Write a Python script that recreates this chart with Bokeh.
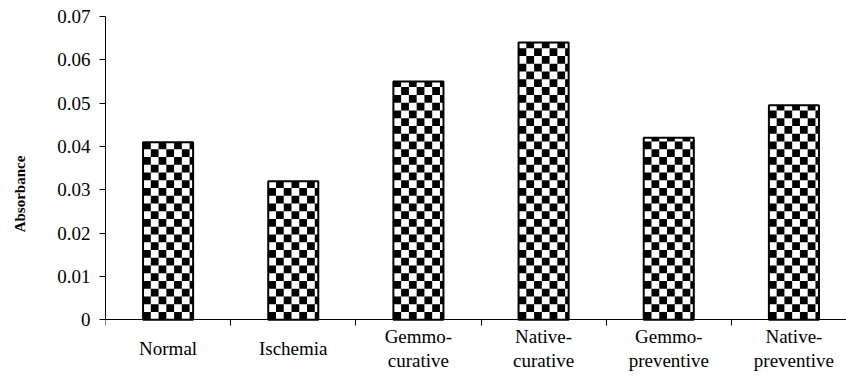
import math
from bokeh.plotting import figure
from bokeh.models import Range1d, FixedTicker
from bokeh.core.properties import value
from bokeh.embed import file_html
from bokeh.resources import INLINE

# ---- data ----
categories = ["Normal", "Ischemia", "Gemmo-\ncurative", "Native-\ncurative",
              "Gemmo-\npreventive", "Native-\npreventive"]
absorbance = [0.041, 0.032, 0.055, 0.064, 0.042, 0.0495]
y_ticks = [0, 0.01, 0.02, 0.03, 0.04, 0.05, 0.06, 0.07]
y_tick_labels = ["0", "0.01", "0.02", "0.03", "0.04", "0.05", "0.06", "0.07"]

n = len(categories)
centers = [i + 0.5 for i in range(n)]
boundaries = list(range(n + 1))
bar_width = 0.4

# ---- checkerboard fill pattern, cells derived from each bar's extent ----
cell_w = 0.062      # category units
cell_h = 0.00179    # absorbance units
cl, cr, cb, ct = [], [], [], []
for c, top in zip(centers, absorbance):
    left = c - bar_width / 2
    right = c + bar_width / 2
    ncols = math.ceil(bar_width / cell_w)
    nrows = math.ceil(top / cell_h)
    for r in range(nrows):
        for k in range(ncols):
            if (r + k) % 2 == 0:
                x0 = left + k * cell_w
                y0 = r * cell_h
                cl.append(x0)
                cr.append(min(x0 + cell_w, right))
                cb.append(y0)
                ct.append(min(y0 + cell_h, top))

font = "Liberation Serif, serif"

p = figure(width=846, height=385, output_backend="svg", toolbar_location=None,
           x_range=Range1d(0, 5.92), y_range=Range1d(-0.011935, 0.07),
           min_border_left=105, min_border_right=0, min_border_top=16,
           min_border_bottom=14)
p.outline_line_color = None
p.grid.visible = False
p.background_fill_color = "white"
p.border_fill_color = "white"

# white bar body
p.vbar(x=centers, top=absorbance, width=bar_width, bottom=0,
       fill_color="white", line_color=None)
# checker cells
p.quad(left=cl, right=cr, bottom=cb, top=ct, fill_color="black",
       line_color=None)
# bar outlines
p.vbar(x=centers, top=absorbance, width=bar_width, bottom=0,
       fill_color=None, line_color="black", line_width=2)

# x axis drawn at y = 0, tick marks at category boundaries only
xa = p.xaxis[0]
xa.fixed_location = 0
xa.ticker = FixedTicker(ticks=boundaries)
xa.major_label_overrides = {b: "" for b in boundaries}
xa.major_label_text_font_size = "1px"
xa.major_label_standoff = 0
xa.minor_tick_line_color = None
xa.major_tick_in = 0
xa.major_tick_out = 6
xa.axis_line_color = "black"
xa.major_tick_line_color = "black"

# y axis
ya = p.yaxis[0]
ya.bounds = (0, 0.07)
ya.ticker = FixedTicker(ticks=y_ticks)
ya.major_label_overrides = {t: l for t, l in zip(y_ticks, y_tick_labels)}
ya.minor_tick_line_color = None
ya.major_tick_in = 0
ya.major_tick_out = 6
ya.major_label_standoff = 9
ya.major_label_text_font = font
ya.major_label_text_font_size = "19px"
ya.major_label_text_color = "black"
ya.axis_label = "Absorbance"
ya.axis_label_text_font = font
ya.axis_label_text_font_size = "15px"
ya.axis_label_text_font_style = "bold"
ya.axis_label_text_color = "black"
ya.axis_label_standoff = 26

# category labels, centred under each bar
p.text(x=centers, y=[0] * n, text=categories, y_offset=29,
       text_align="center", text_baseline="middle",
       text_font=value(font), text_font_size="19px", text_color="black",
       text_line_height=1.15)

open("out.html", "w").write(file_html(p, INLINE))
